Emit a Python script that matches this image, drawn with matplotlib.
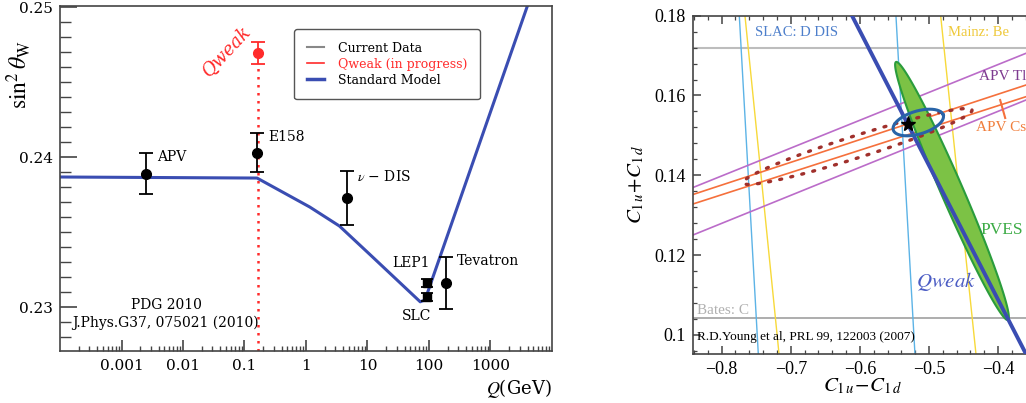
import matplotlib
matplotlib.use("Agg")
import matplotlib.pyplot as plt
import numpy as np
from matplotlib import ticker
from matplotlib.lines import Line2D

plt.rcParams['mathtext.fontset'] = 'stix'

# ---- left panel: running of sin^2 theta_W ----
sm_q = [1e-4, 0.16, 1.15, 3.5, 12.0, 72.0, 86.0, 4000.0]
sm_s2w = [0.23867, 0.2386, 0.23667, 0.2354, 0.23335, 0.23035, 0.23047, 0.2501]

circ_names = ['APV', 'E158', r'$\nu$ − DIS', 'Tevatron']
circ_q = [0.0025, 0.16, 4.6, 189.0]
circ_s2w = [0.2389, 0.2403, 0.23727, 0.2316]
circ_err = [0.00137, 0.0013, 0.0018, 0.00175]

sq_names = ['LEP1', 'SLC']
sq_q = [91.2, 91.2]
sq_s2w = [0.2316, 0.23067]
sq_err = [0.00025, 0.00025]

qweak_q = 0.163
qweak_s2w = 0.24693
qweak_err = 0.00073

# ---- right panel: C1u, C1d constraints ----
slac_pts = [[(-0.7745, 0.18), (-0.747, 0.0952)], [(-0.5478, 0.18), (-0.5203, 0.0952)]]
mainz_pts = [[(-0.7663, 0.18), (-0.717, 0.0952)], [(-0.4831, 0.18), (-0.432, 0.0952)]]
apv_tl_pts = [[(-0.8415, 0.13694), (-0.3596, 0.17058)], [(-0.8415, 0.12504), (-0.3596, 0.15887)]]
apv_cs_pts = [[(-0.8415, 0.13519), (-0.3596, 0.16263)], [(-0.8415, 0.13281), (-0.3596, 0.1597)]]
qweak_line = [(-0.6114, 0.18), (-0.3596, 0.09521)]
slac_top_y = 0.172
bates_y = 0.1042
sm_star = (-0.5304, 0.15286)

# ellipses: centre, half-axis vector 1, half-axis vector 2
pves_ell = [(-0.4667, 0.13607), (0.0810, -0.03233), (0.01461, 0.0011)]
apv_ell = [(-0.60347, 0.14722), (0.1657, 0.009148), (0.004834, -0.002627)]
comb_ell = [(-0.51549, 0.15323), (0.03618, 0.00188), (0.004776, -0.002757)]


def ellipse(c, u, v):
    t = np.linspace(0, 2 * np.pi, 300)
    return (c[0] + np.cos(t) * u[0] + np.sin(t) * v[0],
            c[1] + np.cos(t) * u[1] + np.sin(t) * v[1])


fig = plt.figure(figsize=(10.26, 4.03), dpi=100)
fig.patch.set_facecolor('white')

# =================== left ===================
serif = 'DejaVu Serif'
ax = fig.add_axes([0.05848, 0.12903, 0.47953, 0.85608])
ax.set_xscale('log')
ax.set_xlim(1e-4, 1e4)
ax.set_ylim(0.22707, 0.25007)

blue = '#3a4db2'
red = '#ff2b2b'
ax.plot(sm_q, sm_s2w, color=blue, lw=2.2, zorder=2)
ax.vlines(qweak_q, 0.22707, qweak_s2w - qweak_err, colors=red, linestyles=(0, (1, 2.2)), lw=1.8, zorder=1)
ax.errorbar(circ_q, circ_s2w, yerr=circ_err, fmt='o', color='black', ms=7, capsize=5, lw=1.3, capthick=1.3, zorder=3)
ax.errorbar(sq_q, sq_s2w, yerr=sq_err, fmt='s', color='black', ms=6, capsize=4, lw=1.3, capthick=1.3, zorder=3)
ax.errorbar([qweak_q], [qweak_s2w], yerr=[qweak_err], fmt='o', color=red, ms=7, capsize=5, lw=1.3, capthick=1.3, zorder=3)

tfs = 10
ax.text(0.0038, 0.2400, 'APV', fontsize=tfs, family=serif, va='center')
ax.text(0.241, 0.24133, 'E158', fontsize=tfs, family=serif, va='center')
ax.text(6.75, 0.23873, r'$\nu$ − DIS', fontsize=tfs, family=serif, va='center')
ax.text(25.0, 0.23293, 'LEP1', fontsize=tfs, family=serif, va='center')
ax.text(36.4, 0.2294, 'SLC', fontsize=tfs, family=serif, va='center')
ax.text(285.0, 0.23307, 'Tevatron', fontsize=tfs, family=serif, va='center')
ax.text(0.0053, 0.23013, 'PDG 2010', fontsize=tfs, family=serif, ha='center', va='center')
ax.text(0.0052, 0.22893, 'J.Phys.G37, 075021 (2010)', fontsize=tfs, family=serif, ha='center', va='center')
ax.text(0.05, 0.24707, 'Qweak', fontsize=13, family=serif, style='italic', color=red,
        rotation=47, ha='center', va='center')

handles = [Line2D([], [], color='#888888', lw=1.5),
           Line2D([], [], color=red, lw=1.2),
           Line2D([], [], color=blue, lw=2.5)]
leg = ax.legend(handles, ['Current Data', 'Qweak (in progress)', 'Standard Model'],
                loc='upper left', bbox_to_anchor=(0.476, 0.933), borderaxespad=0,
                prop={'family': serif, 'size': 9}, fancybox=True, framealpha=1,
                edgecolor='#555555', handlelength=1.4, handletextpad=1.1,
                borderpad=1.0, labelspacing=0.25)
leg.get_frame().set_linewidth(1.0)
leg.get_texts()[1].set_color(red)

for s in ax.spines.values():
    s.set_color('#444444')
    s.set_linewidth(1.2)
ax.set_yticks([0.23, 0.24, 0.25])
ax.set_yticklabels(['0.23', '0.24', '0.25'])
ax.yaxis.set_minor_locator(ticker.MultipleLocator(0.001))
ax.set_xticks([1e-3, 1e-2, 1e-1, 1, 10, 100, 1000])
ax.set_xticklabels(['0.001', '0.01', '0.1', '1', '10', '100', '1000'])
ax.xaxis.set_minor_locator(ticker.LogLocator(base=10, subs=np.arange(2, 10)))
ax.xaxis.set_minor_formatter(ticker.NullFormatter())
ax.tick_params(axis='y', which='major', direction='in', length=12, width=1.2, color='#444444', pad=5, labelsize=11)
ax.tick_params(axis='y', which='minor', direction='in', length=8, width=1.0, color='#444444')
ax.tick_params(axis='x', which='major', direction='in', length=8, width=1.2, color='#444444', pad=6, labelsize=11)
ax.tick_params(axis='x', which='minor', direction='in', length=3.5, width=1.0, color='#444444')
for lab in ax.get_xticklabels() + ax.get_yticklabels():
    lab.set_family(serif)

ax.set_ylabel(r'$\sin^2\theta_{\mathrm{W}}$', fontsize=17)
ax.yaxis.set_label_coords(-0.055, 0.80)
ax.set_xlabel(r'$Q$(GeV)', fontsize=13, family=serif, loc='right')
ax.xaxis.set_label_coords(1.0, -0.075)

# =================== right ===================
rs = 'Liberation Serif'
bx = fig.add_axes([0.67544, 0.12159, 0.32456, 0.83945])
bx.set_xlim(-0.8415, -0.3596)
bx.set_ylim(0.09521, 0.18)

bx.axhline(slac_top_y, color='#bdbdbd', lw=1.5, zorder=1)
bx.axhline(bates_y, color='#a0a0a0', lw=1.2, zorder=1)
for p in slac_pts:
    bx.axline(p[0], p[1], color='#5cb3e6', lw=1.0, zorder=2)
for p in mainz_pts:
    bx.axline(p[0], p[1], color='#f7d93a', lw=1.0, zorder=2)
for p in apv_tl_pts:
    bx.axline(p[0], p[1], color='#bb6cc9', lw=1.2, zorder=2)
for p in apv_cs_pts:
    bx.axline(p[0], p[1], color='#f5703c', lw=1.2, zorder=2)

ex, ey = ellipse(*pves_ell)
bx.fill(ex, ey, facecolor='#7cc245', edgecolor='#2a9c3c', lw=1.5, zorder=3)
ex, ey = ellipse(*apv_ell)
bx.plot(ex, ey, color='#a0302c', lw=2.4, linestyle=(0, (0.6, 2.8)), dash_capstyle='round', zorder=4)
bx.axline(qweak_line[0], qweak_line[1], color='#3a4db2', lw=2.8, zorder=5)
ex, ey = ellipse(*comb_ell)
bx.plot(ex, ey, color='#2864a8', lw=2.2, zorder=6)
bx.plot([sm_star[0]], [sm_star[1]], marker='*', color='black', ms=11, zorder=7)
bx.plot([-0.3970, -0.3897], [0.15887, 0.15436], color='#f5703c', lw=1.5, zorder=2)

bx.text(-0.7518, 0.17591, 'SLAC: D DIS', color='#4d7fcb', fontsize=10.5, family=rs, va='center', clip_on=True)
bx.text(-0.4725, 0.17591, 'Mainz: Be', color='#efc93a', fontsize=10.5, family=rs, va='center', clip_on=True)
bx.text(-0.4270, 0.16464, 'APV Tl', color='#7e3b90', fontsize=11, family=rs, va='center')
bx.text(-0.4315, 0.15193, 'APV Cs', color='#f07e3c', fontsize=11, family=rs, va='center')
bx.text(-0.4260, 0.12629, 'PVES', color='#3cab45', fontsize=12.5, family=rs, va='center')
bx.text(-0.4754, 0.11333, r'$Qweak$', color='#4b5cc4', fontsize=15, ha='center', va='center')
bx.text(-0.8357, 0.10599, 'Bates: C', color='#b0b0b0', fontsize=11, family=rs, va='center')
bx.text(-0.8357, 0.09955, 'R.D.Young et al, PRL 99, 122003 (2007)', color='black', fontsize=9.5,
        family=rs, va='center')

for k, s in bx.spines.items():
    s.set_color('#444444')
    s.set_linewidth(1.2)
bx.spines['right'].set_visible(False)
bx.yaxis.set_major_locator(ticker.FixedLocator([0.10, 0.12, 0.14, 0.16, 0.18]))
bx.yaxis.set_minor_locator(ticker.MultipleLocator(0.004))
bx.xaxis.set_major_locator(ticker.FixedLocator([-0.8, -0.7, -0.6, -0.5, -0.4]))
bx.xaxis.set_minor_locator(ticker.MultipleLocator(0.02))
fmt = ticker.FuncFormatter(lambda v, p: f'{v:g}'.replace('-', '\u2212'))
bx.xaxis.set_major_formatter(fmt)
bx.yaxis.set_major_formatter(fmt)
bx.tick_params(which='both', direction='in', top=True, right=False, color='#444444')
bx.tick_params(which='major', length=6, width=1.1, labelsize=13, pad=5)
bx.tick_params(which='minor', length=3, width=0.9)
for lab in bx.get_xticklabels() + bx.get_yticklabels():
    lab.set_family(rs)

bx.set_xlabel(r'$C_{1\,u}\!-\!C_{1\,d}$', fontsize=15)
bx.xaxis.set_label_coords(0.51, -0.065)
bx.set_ylabel(r'$C_{1\,u}\!+\!C_{1\,d}$', fontsize=15)
bx.yaxis.set_label_coords(-0.14, 0.5)

fig.savefig('out.png', dpi=100, facecolor='white')
